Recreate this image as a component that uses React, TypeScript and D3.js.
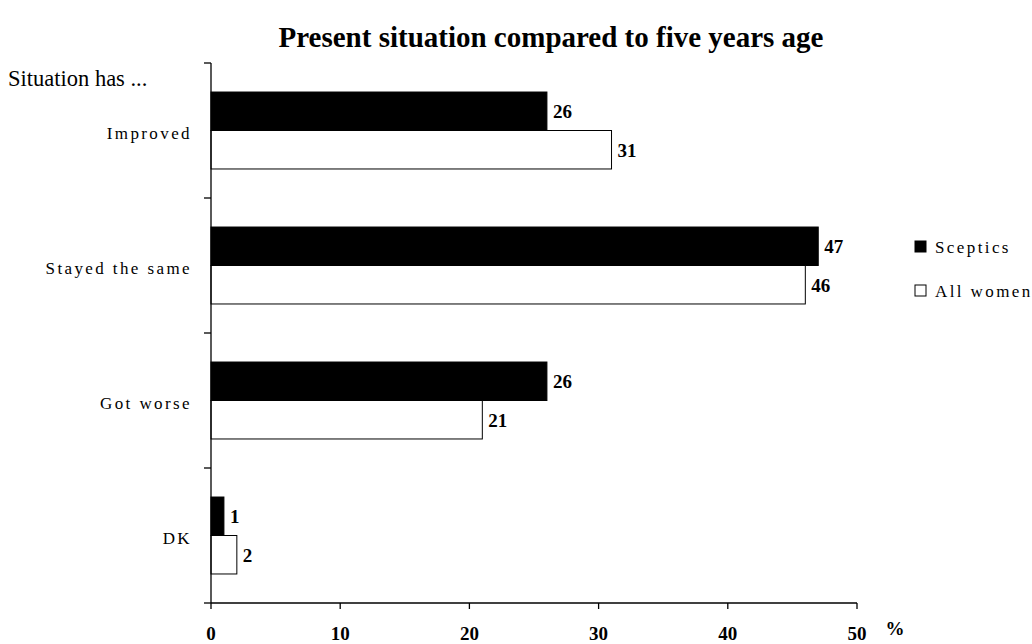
import React from "react";
import * as d3 from "d3";

const categories = ["Improved", "Stayed the same", "Got worse", "DK"];
const seriesNames = ["Sceptics", "All women"];
const sceptics = [26, 47, 26, 1];
const allWomen = [31, 46, 21, 2];
const xTicks = [0, 10, 20, 30, 40, 50];
const title = "Present situation compared to five years age";
const yAxisTitle = "Situation has ...";
const unitLabel = "%";

const W = 1032;
const H = 644;
const FONT = "'Liberation Serif', 'Times New Roman', serif";

export default function App() {
  const x = d3.scaleLinear().domain([0, 50]).range([211, 857]);
  const y = d3
    .scaleBand<string>()
    .domain(categories)
    .range([63, 603])
    .paddingInner(0.43)
    .paddingOuter(0.215);
  const sub = d3
    .scaleBand<string>()
    .domain(seriesNames)
    .range([0, y.bandwidth()]);
  const series = [sceptics, allWomen];
  const fills = ["#000", "#fff"];
  const yTickPos = d3.range(categories.length + 1).map((i) => 63 + i * y.step());

  return (
    <svg
      width={W}
      height={H}
      style={{ position: "absolute", left: 0, top: 0, background: "#fff" }}
      fontFamily={FONT}
    >
      <rect x={0} y={0} width={W} height={H} fill="#fff" />
      <text
        x={551}
        y={47}
        textAnchor="middle"
        fontSize={29}
        fontWeight="bold"
      >
        {title}
      </text>
      <text x={8} y={86} fontSize={22.5}>
        {yAxisTitle}
      </text>

      {categories.map((c, ci) =>
        series.map((s, si) => {
          const yy = (y(c) as number) + (sub(seriesNames[si]) as number);
          const h = sub.bandwidth();
          return (
            <g key={c + si}>
              <rect
                x={x(0)}
                y={yy}
                width={x(s[ci]) - x(0)}
                height={h}
                fill={fills[si]}
                stroke="#000"
                strokeWidth={1}
              />
              <text
                x={x(s[ci]) + 6}
                y={yy + h / 2 + 7}
                fontSize={19}
                fontWeight="bold"
              >
                {s[ci]}
              </text>
            </g>
          );
        })
      )}

      {categories.map((c) => (
        <text
          key={c}
          x={192}
          y={(y(c) as number) + y.bandwidth() / 2 + 8}
          textAnchor="end"
          fontSize={17}
          letterSpacing={2.4}
        >
          {c}
        </text>
      ))}

      {/* y axis */}
      <line x1={211} x2={211} y1={63} y2={603} stroke="#000" strokeWidth={1.3} />
      {yTickPos.map((p, i) => (
        <line key={i} x1={204} x2={211} y1={p} y2={p} stroke="#000" strokeWidth={1.3} />
      ))}

      {/* x axis */}
      <line x1={211} x2={857} y1={603} y2={603} stroke="#000" strokeWidth={1.3} />
      {xTicks.map((t) => (
        <g key={t}>
          <line x1={x(t)} x2={x(t)} y1={603} y2={609} stroke="#000" strokeWidth={1.3} />
          <text x={x(t)} y={640} textAnchor="middle" fontSize={19} fontWeight="bold">
            {t}
          </text>
        </g>
      ))}
      <text x={895} y={635} textAnchor="middle" fontSize={19} fontWeight="bold">
        {unitLabel}
      </text>

      {/* legend */}
      {seriesNames.map((n, i) => (
        <g key={n}>
          <rect
            x={915}
            y={241 + i * 44}
            width={11}
            height={11}
            fill={fills[i]}
            stroke="#000"
            strokeWidth={1}
          />
          <text x={935} y={253 + i * 44} fontSize={17} letterSpacing={2.4}>
            {n}
          </text>
        </g>
      ))}
    </svg>
  );
}
